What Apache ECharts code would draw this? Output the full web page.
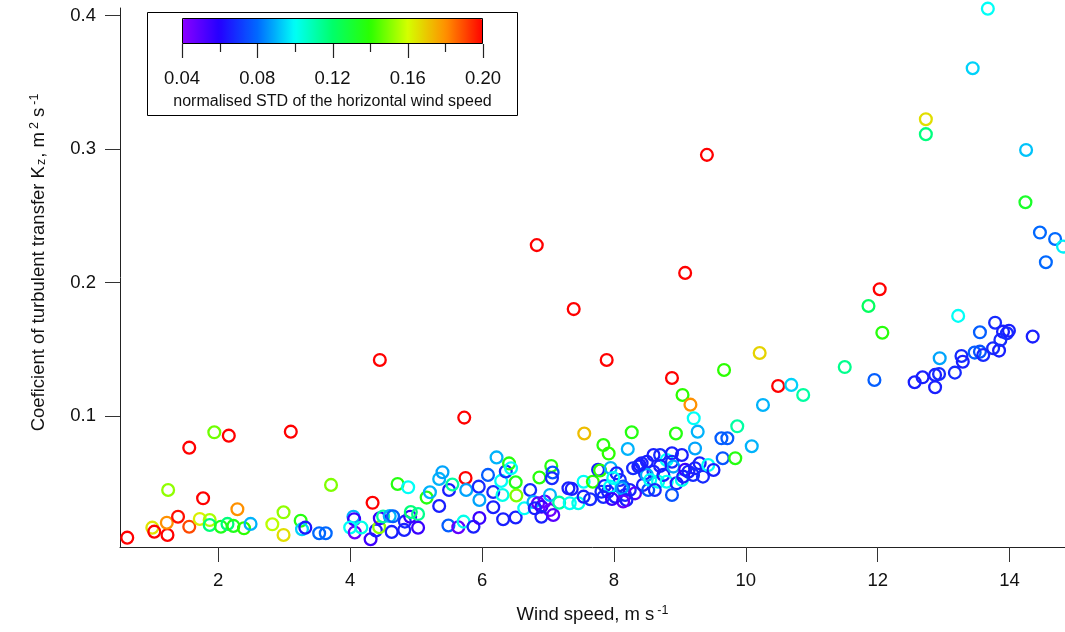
<!DOCTYPE html>
<html>
<head>
<meta charset="utf-8">
<script src="https://cdn.jsdelivr.net/npm/echarts@6/dist/echarts.min.js"></script>
<style>
html,body{margin:0;padding:0;background:#fff;}
#chart{width:1065px;height:632px;}
</style>
</head>
<body>
<div id="chart"></div>
<script>
// Wind speed (m s-1)
const windSpeed = [
 0.62,1.00,1.03,1.23,1.22,1.39,1.24,1.56,1.56,1.77,
 1.72,1.87,1.87,1.94,2.16,2.04,2.14,2.23,2.29,2.39,
 2.49,2.82,2.99,2.99,3.10,3.25,3.27,3.32,3.53,3.63,
 3.71,4.05,4.06,4.00,4.07,4.17,4.34,4.31,4.39,4.44,
 4.45,4.50,4.60,4.65,4.63,4.72,4.88,4.83,4.82,4.91,
 4.92,5.03,5.03,5.16,5.21,5.35,5.40,5.35,5.50,5.55,
 5.49,5.64,5.72,5.73,5.75,5.76,5.87,5.95,5.96,5.96,
 6.09,6.22,6.17,6.17,6.29,6.31,6.32,6.36,6.41,6.44,
 6.51,6.52,6.51,6.64,6.73,6.78,6.83,6.87,6.85,6.90,
 6.95,7.03,7.03,6.90,7.08,6.80,7.05,7.07,7.06,7.17,
 7.31,7.36,7.33,7.46,7.54,7.54,7.64,7.68,7.39,7.55,
 7.76,7.79,7.84,7.92,7.89,7.95,7.86,7.81,7.91,8.04,
 8.09,8.14,8.17,8.02,8.21,8.27,8.24,8.32,8.37,8.42,
 8.47,8.44,8.52,8.50,8.60,8.70,8.60,8.50,8.55,8.67,
 8.75,8.80,8.88,8.88,8.90,9.03,8.80,8.95,8.88,9.03,
 9.05,9.08,9.13,9.20,9.23,9.30,9.35,9.43,9.51,8.94,
 9.04,9.16,9.21,9.27,9.23,9.08,8.88,9.41,9.63,9.72,
 9.87,9.65,9.84,10.09,9.67,10.21,10.26,10.49,10.69,10.87,
 11.50,11.95,11.86,12.03,12.07,12.56,12.68,12.87,12.93,12.87,
 12.94,13.17,13.27,13.29,13.22,13.47,13.55,13.60,13.55,13.75,
 13.84,13.78,13.86,13.90,13.96,13.99,14.35,13.67,13.44,12.73,
 12.73,14.25,14.24,14.46,14.69,14.81,14.55,4.45,7.94,8.12,
 8.19,7.84,8.39,8.29,7.99,8.70,8.62,8.14,7.97
];
// Coefficient of turbulent transfer Kz (m2 s-1)
const kz = [
 0.0090,0.0165,0.0135,0.0110,0.0202,0.0247,0.0447,0.0764,0.0172,0.0385,
 0.0230,0.0222,0.0185,0.0879,0.0854,0.0172,0.0193,0.0178,0.0303,0.0160,
 0.0193,0.0190,0.0110,0.0280,0.0884,0.0217,0.0153,0.0165,0.0123,0.0123,
 0.0485,0.0247,0.0228,0.0166,0.0129,0.0166,0.0351,0.0078,0.0144,0.0168,
 0.0235,0.0249,0.0252,0.0250,0.0133,0.0492,0.0467,0.0210,0.0148,0.0247,
 0.0282,0.0267,0.0165,0.0390,0.0430,0.0530,0.0580,0.0327,0.0447,0.0488,
 0.0181,0.0168,0.0210,0.0989,0.0537,0.0447,0.0172,0.0472,0.0372,0.0237,
 0.0560,0.0691,0.0432,0.0318,0.0515,0.0410,0.0228,0.0586,0.0646,0.0610,
 0.0505,0.0406,0.0241,0.0310,0.0447,0.0357,0.2281,0.0541,0.0348,0.0322,
 0.0360,0.0410,0.0297,0.0247,0.0260,0.0310,0.0627,0.0578,0.0535,0.0352,
 0.0460,0.0455,0.0348,0.0348,0.0509,0.0397,0.0378,0.0509,0.1802,0.0870,
 0.0598,0.0593,0.0784,0.0720,0.1421,0.0612,0.0477,0.0434,0.0434,0.0572,
 0.0522,0.0472,0.0410,0.0397,0.0754,0.0879,0.0447,0.0422,0.0622,0.0647,
 0.0572,0.0485,0.0447,0.0659,0.0709,0.0709,0.0584,0.0560,0.0522,0.0509,
 0.0560,0.0672,0.0722,0.0659,0.0622,0.0709,0.0509,0.0497,0.0410,0.0522,
 0.0547,0.0599,0.0584,0.0560,0.0610,0.0647,0.0547,0.0634,0.0597,0.0870,
 0.1159,0.1086,0.0984,0.0884,0.0758,0.2073,0.1286,0.2957,0.0834,0.0834,
 0.0924,0.0685,0.0685,0.0775,0.1346,0.1473,0.1084,0.1226,0.1234,0.1159,
 0.1368,0.1271,0.1825,0.1951,0.1625,0.1254,0.1291,0.1309,0.1316,0.1217,
 0.1434,0.1326,0.1451,0.1408,0.1751,0.1476,0.1483,0.1458,0.1628,0.1509,
 0.1491,0.1700,0.1571,0.1633,0.1621,0.1640,0.1596,0.4052,0.3606,0.3224,
 0.3112,0.2994,0.2602,0.2375,0.2327,0.2270,0.2153,0.1421,0.0472,0.0460,
 0.0372,0.0395,0.0634,0.0610,0.0537,0.0627,0.0447,0.0361,0.0380
];
// normalised STD of the horizontal wind speed
const stdNorm = [
 0.200,0.165,0.200,0.200,0.180,0.198,0.152,0.200,0.190,0.200,
 0.163,0.155,0.118,0.148,0.200,0.135,0.118,0.135,0.180,0.140,
 0.090,0.157,0.166,0.152,0.200,0.137,0.094,0.064,0.080,0.080,
 0.150,0.090,0.056,0.100,0.047,0.102,0.200,0.055,0.066,0.152,
 0.056,0.112,0.090,0.078,0.066,0.137,0.100,0.068,0.066,0.056,
 0.118,0.115,0.056,0.137,0.090,0.090,0.088,0.066,0.066,0.112,
 0.078,0.048,0.102,0.200,0.200,0.088,0.066,0.068,0.088,0.056,
 0.078,0.090,0.068,0.066,0.100,0.102,0.066,0.070,0.138,0.100,
 0.135,0.150,0.066,0.100,0.068,0.090,0.200,0.138,0.048,0.056,
 0.048,0.090,0.046,0.066,0.050,0.066,0.137,0.076,0.068,0.112,
 0.066,0.066,0.100,0.102,0.100,0.066,0.068,0.140,0.200,0.172,
 0.066,0.140,0.138,0.140,0.200,0.090,0.066,0.068,0.066,0.066,
 0.068,0.076,0.068,0.066,0.090,0.137,0.066,0.050,0.066,0.066,
 0.068,0.066,0.076,0.066,0.066,0.068,0.066,0.088,0.100,0.102,
 0.066,0.100,0.066,0.068,0.088,0.066,0.100,0.066,0.076,0.102,
 0.066,0.056,0.066,0.068,0.066,0.066,0.068,0.100,0.066,0.137,
 0.140,0.180,0.100,0.090,0.088,0.200,0.200,0.200,0.078,0.078,
 0.112,0.076,0.137,0.090,0.140,0.168,0.090,0.200,0.094,0.112,
 0.115,0.078,0.122,0.200,0.138,0.066,0.066,0.066,0.068,0.066,
 0.088,0.068,0.068,0.066,0.100,0.078,0.076,0.068,0.078,0.068,
 0.066,0.068,0.068,0.066,0.068,0.066,0.066,0.100,0.094,0.166,
 0.117,0.092,0.132,0.080,0.080,0.098,0.080,0.200,0.100,0.088,
 0.066,0.068,0.066,0.068,0.100,0.066,0.068,0.048,0.056
];
const xTicks = [2, 4, 6, 8, 10, 12, 14];
const yTicks = [0.1, 0.2, 0.3, 0.4];
const colorTicks = [0.04, 0.08, 0.12, 0.16, 0.20];
const colorMinorTicks = [0.06, 0.10, 0.14, 0.18];
const colorStops = ['#8c00ff','#2400ff','#0068ff','#00fff7','#00ff6a','#2bff00','#d4ff00','#ff9100','#ff0000'];

const FONT = "'Liberation Sans', Arial, Helvetica, sans-serif";
const TXT = '#111';
const points = windSpeed.map((x, i) => [x, kz[i], stdNorm[i]]);
const barTicks = colorTicks.map(v => [v, 1]).concat(colorMinorTicks.map(v => [v, 0]));

const chart = echarts.init(document.getElementById('chart'), null, {renderer: 'canvas'});
chart.setOption({
  animation: false,
  backgroundColor: '#fff',
  textStyle: {fontFamily: FONT},
  grid: [
    {left: 120, right: 0, top: 8, bottom: 85, containLabel: false, outerBoundsMode: 'none'},
    {left: 182, top: 19, width: 301, height: 25, containLabel: false, outerBoundsMode: 'none'}
  ],
  xAxis: [
    {
      type: 'value', gridIndex: 0, min: 0.51, max: 14.84,
      name: '{t|Wind speed, m s}{sup|-1}',
      nameLocation: 'middle', nameGap: 57,
      nameTextStyle: {
        color: TXT, fontFamily: FONT, fontSize: 18.5,
        rich: {
          t: {fontSize: 18.5, fontFamily: FONT, color: TXT, lineHeight: 20, verticalAlign: 'bottom'},
          sup: {fontSize: 12.5, fontFamily: FONT, color: TXT, lineHeight: 13, verticalAlign: 'top', padding: [0, 0, 14, 3]}
        }
      },
      axisLine: {show: true, onZero: false, lineStyle: {color: '#222', width: 1}},
      axisTick: {show: true, inside: false, length: 15, customValues: xTicks, lineStyle: {color: '#333', width: 1}},
      axisLabel: {show: true, customValues: xTicks, margin: 24, fontSize: 18.5, color: TXT, fontFamily: FONT},
      splitLine: {show: false}
    },
    {
      type: 'value', gridIndex: 1, min: 0.04, max: 0.20, position: 'bottom',
      name: 'normalised STD of the horizontal wind speed',
      nameLocation: 'middle', nameGap: 50,
      nameTextStyle: {color: TXT, fontFamily: FONT, fontSize: 16},
      axisLine: {show: false},
      axisTick: {show: false},
      axisLabel: {show: true, margin: 25, fontSize: 18.5, color: TXT, fontFamily: FONT,
        customValues: colorTicks, formatter: v => v.toFixed(2)},
      splitLine: {show: false}
    }
  ],
  yAxis: [
    {
      type: 'value', gridIndex: 0, min: 0.002, max: 0.4057,
      name: '{t|Coeficient of turbulent transfer K}{sub|z}{t|, m}{sup|2}{t| s}{sup|-1}',
      nameLocation: 'middle', nameGap: 72,
      nameTextStyle: {
        color: TXT, fontFamily: FONT, fontSize: 18.5, padding: [0, 0, 0, 30],
        rich: {
          t: {fontSize: 18.5, fontFamily: FONT, color: TXT, lineHeight: 20, verticalAlign: 'bottom'},
          sub: {fontSize: 12.5, fontFamily: FONT, color: TXT, lineHeight: 13, verticalAlign: 'bottom', padding: [0, 1, 0, 1]},
          sup: {fontSize: 12.5, fontFamily: FONT, color: TXT, lineHeight: 13, verticalAlign: 'top', padding: [0, 0, 14, 3]}
        }
      },
      axisLine: {show: true, onZero: false, lineStyle: {color: '#222', width: 1}},
      axisTick: {show: true, inside: false, length: 15, customValues: yTicks, lineStyle: {color: '#333', width: 1}},
      axisLabel: {show: true, customValues: yTicks, margin: 24, fontSize: 18.5, color: TXT, fontFamily: FONT},
      splitLine: {show: false}
    },
    {type: 'value', gridIndex: 1, show: false, min: 0, max: 1}
  ],
  visualMap: {
    type: 'continuous', seriesIndex: 0, dimension: 2,
    min: 0.04, max: 0.20, orient: 'horizontal',
    left: 182, top: 19, itemWidth: 25, itemHeight: 301,
    calculable: false, realtime: false, hoverLink: false,
    padding: 0, text: null,
    inRange: {color: colorStops},
    textStyle: {color: 'transparent'}
  },
  graphic: [
    {type: 'rect', z: 100, silent: true, shape: {x: 147.5, y: 12.5, width: 370, height: 103},
     style: {fill: 'none', stroke: '#000', lineWidth: 1}},
    {type: 'rect', z: 100, silent: true, shape: {x: 182.5, y: 18.5, width: 300, height: 25},
     style: {fill: 'none', stroke: '#000', lineWidth: 1}}
  ],
  series: [
    {
      type: 'custom', xAxisIndex: 0, yAxisIndex: 0,
      coordinateSystem: 'cartesian2d',
      encode: {x: 0, y: 1},
      clip: false,
      renderItem: function (params, api) {
        const p = api.coord([api.value(0), api.value(1)]);
        return {
          type: 'circle',
          shape: {cx: p[0], cy: p[1], r: 5.9},
          style: {fill: 'none', stroke: api.visual('color'), lineWidth: 2.3}
        };
      },
      data: points
    },
    {
      type: 'custom', xAxisIndex: 1, yAxisIndex: 1,
      coordinateSystem: 'cartesian2d',
      encode: {x: 0},
      clip: false, silent: true, z: 10,
      renderItem: function (params, api) {
        const p = api.coord([api.value(0), 0]);
        const x = Math.round(p[0]) + 0.5;
        const len = api.value(1) ? 14 : 8;
        return {
          type: 'line',
          shape: {x1: x, y1: 44, x2: x, y2: 44 + len},
          style: {stroke: '#222', lineWidth: 1.2}
        };
      },
      data: barTicks
    }
  ]
});
</script>
</body>
</html>
